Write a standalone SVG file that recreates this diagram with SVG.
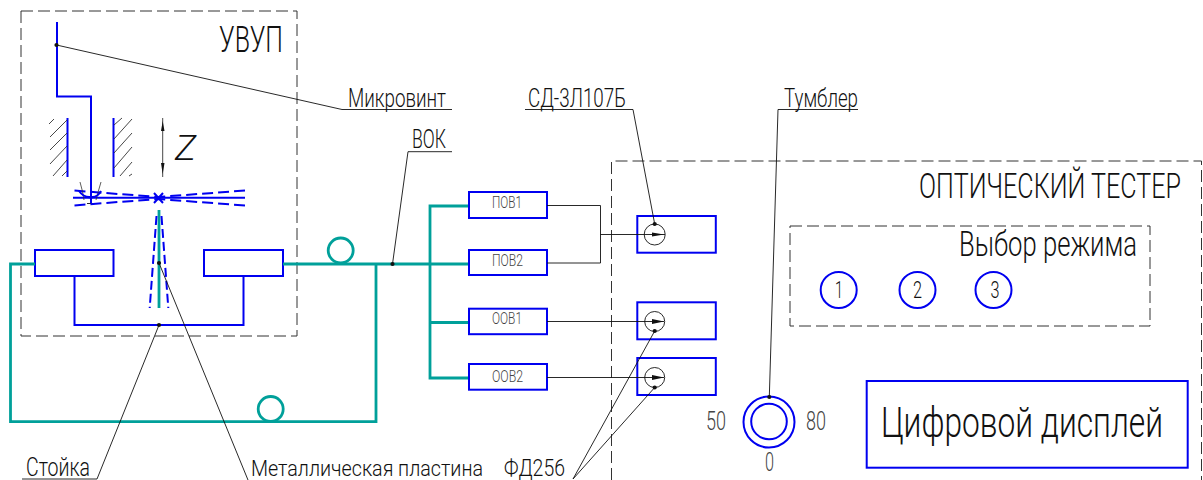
<svg xmlns="http://www.w3.org/2000/svg" width="1203" height="480" viewBox="0 0 1203 480">
<style>
text{font-family:"Roboto","Liberation Sans",sans-serif;font-weight:300;fill:#111}
.g{fill:#444}
.b{fill:none;stroke:#0000f0;stroke-width:2}
.t{fill:none;stroke:#00a09a;stroke-width:2.800}
.k{fill:none;stroke:#111;stroke-width:.9}
.d{fill:none;stroke:#333;stroke-width:1;stroke-dasharray:12 5}
.h{fill:none;stroke:#333;stroke-width:.9}
.bd{fill:none;stroke:#0000f0;stroke-width:2;stroke-dasharray:11 5}
.bdn{fill:none;stroke:#0000f0;stroke-width:2;stroke-dasharray:9 4}
</style>
<defs>
<marker id="dot" markerWidth="6" markerHeight="6" refX="3" refY="3" markerUnits="userSpaceOnUse"><circle cx="3" cy="3" r="2.100" fill="#111"/></marker>
</defs>
<g id="uvup">
<rect class="d" x="21" y="11" width="276" height="325"/>
<text x="219" y="52" font-size="36" textLength="64" lengthAdjust="spacingAndGlyphs">УВУП</text>
</g>
<g id="microscrew">
<path class="b" d="M57 22V96.500H91V203"/>
<path class="k" d="M87 203.500H95"/>
</g>
<g id="walls">
<path class="b" d="M67.500 118V177M113.500 118V177"/>
<path class="h" d="M49 124L54 119M50 137L67 120M50 150L67 133M50 164L67 146M53 176L67 160M62 176L67 171M114 125L122 118M114 139L132 119M114 153L132 133M114 168L132 147M120 176L132 162M129 176L132 174"/>
</g>
<g id="z-axis">
<path class="h" d="M162.700 118V177"/>
<path d="M162.700 121L161 131H164.500zM162.700 174L161 163H164.500z" fill="#111"/>
<text x="175" y="160" font-size="35" font-style="italic" textLength="21" lengthAdjust="spacingAndGlyphs">Z</text>
</g>
<g id="cantilever">
<path class="b" d="M73 197.700H245"/>
<path class="bd" d="M245 190.500L158 197L73 190.500M245 205.500L158 199L73 205.500"/>
<path class="b" d="M154 193L163 203M163 193L154 203"/>
<path d="M80 182Q83 192 84 200M101 182Q98 192 96 200" fill="none" stroke="#333" stroke-width=".8"/>
<path class="b" d="M79 191Q84 198 91 197Q97 198 101 191"/>
</g>
<g id="tip">
<path class="t" d="M159 210V308"/>
<path class="bdn" d="M156.500 216L149.700 308M161.500 216L168.300 308"/>
</g>
<g id="block-left"><rect class="b" x="35" y="250" width="78.500" height="26"/></g>
<g id="block-right"><rect class="b" x="204" y="250" width="79" height="26"/></g>
<g id="stand"><path class="b" d="M74.500 276V325H243.500V276"/></g>
<g id="fiber">
<path class="t" d="M35 264H10.500V421.700H376V264M283 264H469M469 206H430V378H469M430 322.500H469"/>
<circle class="t" cx="340.700" cy="250.500" r="12.500"/>
<circle class="t" cx="270.700" cy="409" r="12.500"/>
</g>
<g id="pov1"><rect class="b" x="469" y="192" width="78" height="26"/><text class="g" x="492" y="208" font-size="16" textLength="30" lengthAdjust="spacingAndGlyphs">ПОВ1</text></g>
<g id="pov2"><rect class="b" x="469" y="250" width="78" height="25"/><text class="g" x="492" y="266" font-size="16" textLength="31" lengthAdjust="spacingAndGlyphs">ПОВ2</text></g>
<g id="oov1"><rect class="b" x="469" y="308.700" width="78" height="25.500"/><text class="g" x="492" y="324.300" font-size="16" textLength="30" lengthAdjust="spacingAndGlyphs">ООВ1</text></g>
<g id="oov2"><rect class="b" x="469" y="364" width="78" height="25.700"/><text class="g" x="492" y="381.700" font-size="16" textLength="31" lengthAdjust="spacingAndGlyphs">ООВ2</text></g>
<g id="led"><rect class="b" x="637.300" y="216" width="78.500" height="36.700"/><circle class="k" cx="654.700" cy="234.500" r="10.500"/></g>
<g id="pd1"><rect class="b" x="637.300" y="302.300" width="78.500" height="37"/><circle class="k" cx="654.700" cy="321.500" r="10"/></g>
<g id="pd2"><rect class="b" x="637.300" y="358" width="78.500" height="37"/><circle class="k" cx="654.700" cy="377.500" r="10"/></g>
<g id="tester">
<path class="d" d="M611.500 480V161H1201.500V480"/>
<text transform="translate(919 197.700) scale(1 1.350)" font-size="26" textLength="262" lengthAdjust="spacingAndGlyphs">ОПТИЧЕСКИЙ ТЕСТЕР</text>
</g>
<g id="mode-select">
<rect class="d" x="790" y="226" width="360" height="100"/>
<text transform="translate(959 256) scale(1 1.250)" font-size="28" textLength="178" lengthAdjust="spacingAndGlyphs">Выбор режима</text>
</g>
<g id="mode-1"><circle class="b" cx="838.700" cy="290" r="18"/><text x="835" y="298" font-size="24" textLength="8" lengthAdjust="spacingAndGlyphs">1</text></g>
<g id="mode-2"><circle class="b" cx="917.500" cy="290" r="18"/><text x="913" y="298" font-size="24" textLength="9" lengthAdjust="spacingAndGlyphs">2</text></g>
<g id="mode-3"><circle class="b" cx="993.500" cy="290" r="18"/><text x="990.500" y="298" font-size="24" textLength="9" lengthAdjust="spacingAndGlyphs">3</text></g>
<g id="display">
<rect class="b" x="866.700" y="381" width="321" height="86.700"/>
<text transform="translate(881 436.700) scale(1 1.270)" font-size="33" textLength="282" lengthAdjust="spacingAndGlyphs">Цифровой дисплей</text>
</g>
<g id="toggle">
<circle class="b" cx="769" cy="422" r="25.500"/>
<circle class="b" cx="769" cy="421.500" r="17.800"/>
<text class="g" x="706" y="430" font-size="25" textLength="20" lengthAdjust="spacingAndGlyphs">50</text>
<text class="g" x="806" y="430" font-size="25" textLength="20" lengthAdjust="spacingAndGlyphs">80</text>
<text class="g" x="765" y="470.700" font-size="25" textLength="9" lengthAdjust="spacingAndGlyphs">0</text>
</g>
<g id="connectors">
<path class="k" d="M547 205.500H600.500V263H547M600.500 234.500H665"/>
<path class="k" d="M547 321.500H664M547 377.500H664"/>
<path d="M652 232.500L664 234.500L652 236.500zM652 319L664 321.500L652 324zM652 375L664 377.500L652 380z" fill="#111"/>
<path class="k" marker-end="url(#dot)" d="M452 109.500H342L56.500 45"/>
<path class="k" marker-end="url(#dot)" d="M525 109.500H633L654.700 224"/>
<path class="k" marker-end="url(#dot)" d="M452 151.700H408L392.500 264"/>
<path class="k" marker-end="url(#dot)" d="M858 109.500H778L769.300 397"/>
<path class="k" marker-end="url(#dot)" d="M22 479H97L159 325"/>
<path class="k" marker-end="url(#dot)" d="M248 480L159 263"/>
<path class="k" marker-end="url(#dot)" d="M573 479L654.700 331"/>
<path class="k" marker-end="url(#dot)" d="M573 479L654.700 387.500"/>
</g>
<g id="labels">
<text x="348" y="106.500" font-size="25" textLength="98" lengthAdjust="spacingAndGlyphs">Микровинт</text>
<text x="528" y="106.500" font-size="25" textLength="98" lengthAdjust="spacingAndGlyphs">СД-3Л107Б</text>
<text x="412" y="148" font-size="25" textLength="34" lengthAdjust="spacingAndGlyphs">ВОК</text>
<text x="784" y="106.500" font-size="25" textLength="74" lengthAdjust="spacingAndGlyphs">Тумблер</text>
<text x="26" y="476" font-size="25" textLength="64" lengthAdjust="spacingAndGlyphs">Стойка</text>
<text transform="translate(251 476) scale(1 1.120)" font-size="20" textLength="232" lengthAdjust="spacingAndGlyphs">Металлическая пластина</text>
<text x="504" y="476" font-size="23" textLength="61" lengthAdjust="spacingAndGlyphs">ФД256</text>
</g>
</svg>
